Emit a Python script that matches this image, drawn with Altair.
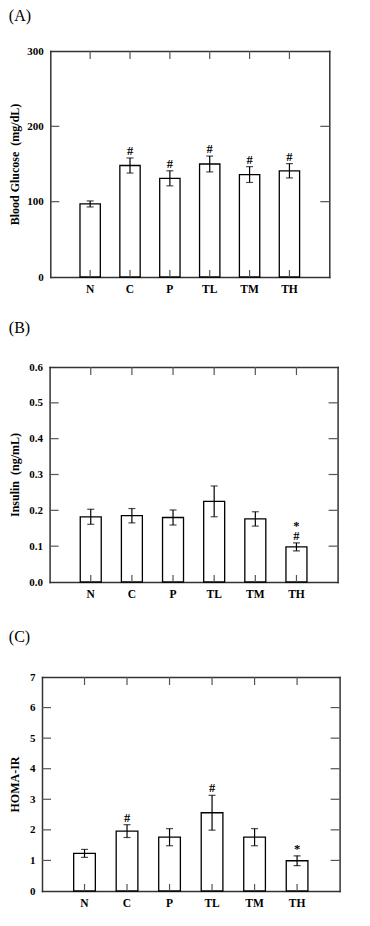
import altair as alt
import pandas as pd

SERIF = "Liberation Serif"
FRAME = "#333"

groups = ["N", "C", "P", "TL", "TM", "TH"]

# (A) Blood glucose
glu_mean = [97, 148, 131, 150, 136, 141]
glu_sem = [4, 10, 10, 10.5, 10.5, 9.5]
glu_mark1 = ["", "#", "#", "#", "#", "#"]
glu_mark2 = ["", "", "", "", "", ""]
glu_axis = [0, 100, 200, 300]
glu_inner = [100, 200]

# (B) Insulin
ins_mean = [0.182, 0.185, 0.180, 0.225, 0.176, 0.098]
ins_sem = [0.021, 0.020, 0.021, 0.043, 0.020, 0.011]
ins_mark1 = ["", "", "", "", "", "#"]
ins_mark2 = ["", "", "", "", "", "*"]
ins_axis = [0.0, 0.1, 0.2, 0.3, 0.4, 0.5, 0.6]
ins_inner = [0.1, 0.2, 0.3, 0.4, 0.5]

# (C) HOMA-IR
homa_mean = [1.23, 1.96, 1.76, 2.56, 1.76, 0.99]
homa_sem = [0.13, 0.21, 0.28, 0.57, 0.28, 0.16]
homa_mark1 = ["", "#", "", "#", "", "*"]
homa_mark2 = ["", "", "", "", "", ""]
homa_axis = [0, 1, 2, 3, 4, 5, 6, 7]
homa_inner = [1, 2, 3, 4, 5, 6]

PLOT_LEFT = 41.7  # common left edge of the plot cells


def panel(letter, mean, sem, m1, m2, axis_vals, inner, dom, ytitle, fmt,
          frame_left, frame_right, h, title_off, title_pad, xtitle=None):
    w = frame_right - PLOT_LEFT
    d = frame_left - PLOT_LEFT
    df = pd.DataFrame({
        "grp": groups,
        "mean": mean,
        "lo": [m - s for m, s in zip(mean, sem)],
        "hi": [m + s for m, s in zip(mean, sem)],
        "m1": m1,
        "m2": m2,
    })
    tk = pd.DataFrame({"t": inner})

    xb_kw = dict(orient="bottom", labelAngle=0, ticks=False, domain=True,
                 domainColor=FRAME, domainWidth=1.5, domainCap="square",
                 grid=False, labelFont=SERIF, labelFontWeight="bold",
                 labelFontSize=11.5, labelPadding=6, labelColor="black")
    if xtitle is not None:
        xb_kw.update(title=xtitle, titleFontSize=4, titlePadding=0)
    else:
        xb_kw.update(title=None)
    x_bottom = alt.Axis(**xb_kw)
    x_top = alt.Axis(orient="top", labels=False, ticks=False, domain=True,
                     domainColor=FRAME, domainWidth=1.5, domainCap="square",
                     grid=False, title=None)
    y_left = alt.Axis(orient="left", offset=-d, values=axis_vals, format=fmt,
                      ticks=False, domain=True, domainColor=FRAME,
                      domainWidth=1.5, domainCap="square", grid=False,
                      labelFont=SERIF, labelFontWeight="bold", labelFontSize=11,
                      labelPadding=7, labelColor="black",
                      title=ytitle, titleFont=SERIF, titleFontSize=12,
                      titleFontWeight="bold", titlePadding=title_pad,
                      titleColor="black")
    y_right = alt.Axis(orient="right", labels=False, ticks=False, domain=True,
                       domainColor=FRAME, domainWidth=1.5, domainCap="square",
                       grid=False, title=None)

    xscale = alt.Scale(range=[d, w], paddingInner=0.49, paddingOuter=0.745)
    yscale = alt.Scale(domain=dom, nice=False, zero=True)

    def X(axis=None):
        return alt.X("grp:N", sort=groups, scale=xscale, axis=axis)

    def Y(field, axis=None):
        return alt.Y(field, type="quantitative", scale=yscale, axis=axis)

    base = alt.Chart(df)
    bars = base.mark_bar(fill="white", stroke="black", strokeWidth=1.3).encode(
        x=X(x_bottom), y=Y("mean", y_left))
    err = base.mark_rule(color="black", strokeWidth=1.2).encode(
        x=X(x_top), y=Y("lo", y_right), y2=alt.Y2("hi"))
    caplo = base.mark_tick(color="black", size=7, thickness=1.2).encode(
        x=X(), y=Y("lo"))
    caphi = base.mark_tick(color="black", size=7, thickness=1.2).encode(
        x=X(), y=Y("hi"))
    top = base.mark_rule(color="#555", strokeWidth=1.2).encode(
        x=X(), y=alt.value(0), y2=alt.value(8))
    bot = base.mark_rule(color="#555", strokeWidth=1.2).encode(
        x=X(), y=alt.value(h - 7), y2=alt.value(h))
    lt = alt.Chart(tk).mark_rule(color="#555", strokeWidth=1.2).encode(
        y=Y("t"), x=alt.value(d), x2=alt.value(d + 9))
    rt = alt.Chart(tk).mark_rule(color="#555", strokeWidth=1.2).encode(
        y=Y("t"), x=alt.value(w - 9), x2=alt.value(w))
    t1 = base.mark_text(font=SERIF, fontSize=12.5, fontWeight="bold",
                        baseline="alphabetic", dy=-3, color="black").encode(
        x=X(), y=Y("hi"), text="m1")
    t2 = base.mark_text(font=SERIF, fontSize=12.5, fontWeight="bold",
                        baseline="alphabetic", dy=-12.5, color="black").encode(
        x=X(), y=Y("hi"), text="m2")
    return alt.layer(bars, err, caplo, caphi, top, bot, lt, rt, t1, t2).resolve_axis(
        x="independent", y="independent"
    ).properties(
        width=w, height=h,
        title=alt.TitleParams(text=f"({letter})", anchor="start", frame="bounds",
                              font=SERIF, fontSize=16, fontWeight="normal",
                              offset=title_off, color="black"),
    )


pa = panel("A", glu_mean, glu_sem, glu_mark1, glu_mark2, glu_axis, glu_inner,
           [0, 300], "Blood Glucose\u00a0 (mg/dL)", "d", 50.0, 329.0, 226, 21, 5)
pb = panel("B", ins_mean, ins_sem, ins_mark1, ins_mark2, ins_axis, ins_inner,
           [0, 0.6], "Insulin\u00a0 (ng/mL)", ".1f", 49.3, 337.3, 215, 25, 7,
           xtitle=" ")
pc = panel("C", homa_mean, homa_sem, homa_mark1, homa_mark2, homa_axis, homa_inner,
           [0, 7], "HOMA-IR", "d", 41.7, 339.3, 214, 26, 7.7)

chart = alt.vconcat(pa, pb, pc, spacing=25).properties(
    padding=0
).configure_view(stroke="transparent", strokeWidth=0)

chart.save("out.html", embed_options={"renderer": "svg", "actions": False})
